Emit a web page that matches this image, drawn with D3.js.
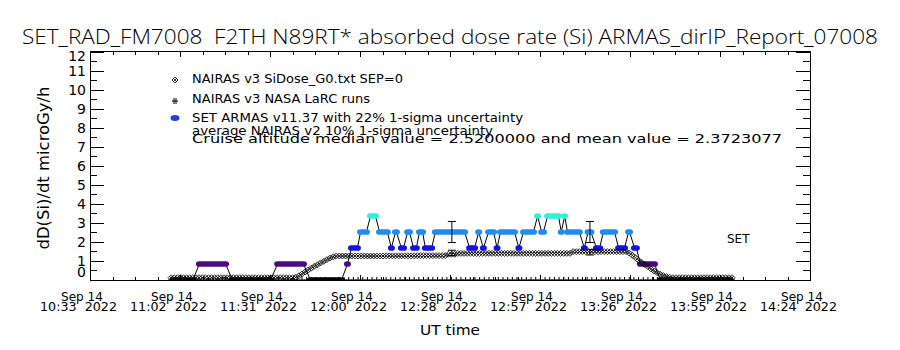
<!DOCTYPE html>
<html><head><meta charset="utf-8">
<script src="https://cdn.jsdelivr.net/npm/d3@7"></script>
<style>
body{margin:0;background:#fff}
svg{display:block}
text{font-family:"DejaVu Sans",sans-serif;fill:#000;white-space:pre}
.title{font-family:"Open Sans","DejaVu Sans",sans-serif;font-weight:300}
</style>
</head><body>
<svg id="chart" width="900" height="350"></svg>
<script>
// ---------- texts ----------
const titleText = "SET_RAD_FM7008  F2TH N89RT* absorbed dose rate (Si) ARMAS_dirIP_Report_07008";
const yAxisLabel = "dD(Si)/dt microGy/h";
const xAxisLabel = "UT time";
const xTickDate = ["Sep 14","Sep 14","Sep 14","Sep 14","Sep 14","Sep 14","Sep 14","Sep 14","Sep 14"];
const xTickTime = ["10:33  2022","11:02  2022","11:31  2022","12:00  2022","12:28  2022","12:57  2022","13:26  2022","13:55  2022","14:24  2022"];
const yTickValues = [0,1,2,3,4,5,6,7,8,9,10,11,12];
const legendLabels = [
  "NAIRAS v3 SiDose_G0.txt SEP=0",
  "NAIRAS v3 NASA LaRC runs",
  "SET ARMAS v11.37 with 22% 1-sigma uncertainty",
  "average NAIRAS v2 10% 1-sigma uncertainty",
  "Cruise altitude median value = 2.5200000 and mean value = 2.3723077"
];
const instrumentLabel = "SET";

// ---------- time axis (minutes after 10:33 UT, 14 Sep 2022) ----------
const timeStart = new Date(2022, 8, 14, 10, 33, 0);
const timeEnd   = new Date(2022, 8, 14, 14, 24, 0);

// ---------- NAIRAS v3 SiDose_G0 (one sample per minute, starting at minute 26) ----------
const sidoseStartMin = 26;
const sidoseValues = [
  // ground
  0.12,0.12,0.12,0.12,0.12,0.12,0.12,0.12,0.12,0.12,
  0.12,0.12,0.12,0.12,0.12,0.12,0.12,0.12,0.12,0.12,
  0.12,0.12,0.12,0.12,0.12,0.12,0.12,0.12,0.12,0.12,
  0.12,0.12,0.12,0.12,0.12,0.12,0.12,0.12,0.12,0.12,
  // climb
  0.14,0.22,0.32,0.42,0.52,0.62,0.72,0.80,0.90,0.98,1.07,1.15,1.22,1.26,
  // cruise
  1.26,1.26,1.26,1.26,1.26,1.26,1.26,1.26,1.26,1.26,
  1.26,1.26,1.26,1.26,1.26,1.27,1.27,1.27,1.27,1.27,
  1.27,1.27,1.27,1.27,1.27,1.28,1.28,1.28,1.28,1.28,
  1.28,1.28,1.28,1.28,1.28,
  1.35,1.35,1.35,
  1.40,1.40,1.40,1.40,1.40,1.40,1.40,1.40,1.40,1.40,
  1.40,1.40,1.40,1.40,1.40,1.40,1.40,1.40,1.40,1.40,
  1.40,1.40,1.40,1.40,1.40,1.40,1.40,1.40,1.40,1.40,
  1.40,1.40,1.40,1.40,1.40,1.40,1.40,
  1.49,1.49,1.49,1.49,1.49,1.49,1.49,1.49,1.49,1.49,
  1.49,1.49,1.49,1.49,1.49,1.49,1.49,1.49,
  // descent
  1.42,1.30,1.17,1.03,0.92,0.81,0.70,0.58,0.47,0.38,0.30,0.23,0.18,0.14,
  // ground
  0.12,0.12,0.12,0.12,0.12,0.12,0.12,0.12,0.12,0.12,
  0.12,0.12,0.12,0.12,0.12,0.12,0.12,0.12,0.12,0.12
];

// ---------- NAIRAS v3 NASA LaRC runs (one sample every 1.5 minutes, starting at minute 26) ----------
const larcStartMin = 26;
const larcStepMin = 1.5;
const larcValues = [
  0,0,0,0,0,0,0,0,0,0,0,0,0,0,0,0,0,0,0,0,
  0,0,0,0,0,0,0,0,0,0,0,0,0,0,0,0,0,0,0,0,
  0,0,0,0,0,0,0,0,0,0,0,0,0,0,0,0,0,0,0,0,
  0,0,0,0,0,0,0,0,0,0,0,0,0,0,0,0,0,0,0,0,
  0,0,0,0,0,0,0,0,0,0,0,0,0,0,0,0,0,0,0,0,
  0,0,0,0,0,0,0,0,0,0,0,0,0,0,0,0,0,0,0,0,
  0
];

// ---------- SET ARMAS: runs of equal reading (minutes after 10:33) ----------
const armasRunStart = [26.8,35.1,45.7,60.2,70.7,82.6,83.9,86.8,90.0,92.9,96.7,98.0,99.9,101.9,103.8,105.7,107.6,110.8,121.8,124.7,126.2,127.9,130.6,131.7,137.6,139.1,143.6,144.9,146.8,151.2,152.3,153.2,158.6,159.8,162.5,164.7,169.6,172.8,174.7,176.6,183.0];
const armasRunEnd   = [33.0,43.5,57.9,68.5,80.7,82.6,85.8,88.7,91.6,95.4,96.7,98.3,100.6,102.5,104.7,106.7,109.6,120.2,123.4,124.7,126.2,129.5,130.6,136.2,137.6,142.3,143.6,145.5,150.3,151.2,152.3,157.0,158.6,160.7,163.5,168.3,171.5,173.1,175.3,181.1,205.2];
const armasRunValue = [0,0.84,0,0.84,0,0.84,1.68,2.52,3.36,2.52,1.68,2.52,1.68,2.52,1.68,2.52,1.68,2.52,1.68,2.52,1.68,2.52,1.68,2.52,1.68,2.52,3.36,2.52,3.36,2.52,3.36,2.52,1.68,2.52,1.68,2.52,1.68,2.52,1.68,0.84,0];
const armasLevels = [0,0.84,1.68,2.52,3.36];
const armasColors = ["#000000","#4b0a84","#1010f0","#1e8cf2","#2ef2d4"];

// ---------- uncertainty bars ----------
const errTimesMin = [116.1, 160.4];
const armasMedian = 2.52, armasSigma = 0.22;
const nairasAvg = [1.42, 1.46], nairasSigma = 0.10;

// ---------- layout ----------
const svg = d3.select("#chart");
const L = 90, R = 810, T = 51.5, B = 280;
const minToDate = m => new Date(timeStart.getTime() + m * 60000);
const x = d3.scaleTime().domain([timeStart, timeEnd]).range([L, R]);
const y = d3.scaleLinear().domain([0, 12]).range([B, T]);
const color = d3.scaleOrdinal().domain(armasLevels).range(armasColors);

svg.append("defs").append("clipPath").attr("id","plotclip")
  .append("rect").attr("x",L).attr("y",T).attr("width",R-L).attr("height",B-T);

// title
svg.append("text").attr("class","title").attr("x",450).attr("y",44).attr("text-anchor","middle")
  .attr("font-size",20).attr("textLength",856).attr("lengthAdjust","spacingAndGlyphs")
  .text(titleText);

// axes
const span = timeEnd - timeStart;
const majorTicks = d3.range(9).map(i => new Date(timeStart.getTime() + i * span / 8));
const minorTicks = d3.range(33).map(i => new Date(timeStart.getTime() + i * span / 32));

svg.append("g").attr("transform",`translate(0,${B})`)
  .call(d3.axisBottom(x).tickValues(minorTicks).tickSize(-3).tickFormat(""))
  .call(g => g.select(".domain").remove());
svg.append("g").attr("transform",`translate(0,${B})`)
  .call(d3.axisBottom(x).tickValues(majorTicks).tickSize(-5).tickFormat(""))
  .call(g => g.select(".domain").remove());
svg.append("g").attr("transform",`translate(0,${T})`)
  .call(d3.axisTop(x).tickValues(minorTicks).tickSize(-3).tickFormat(""))
  .call(g => g.select(".domain").remove());
svg.append("g").attr("transform",`translate(0,${T})`)
  .call(d3.axisTop(x).tickValues(majorTicks).tickSize(-5).tickFormat(""))
  .call(g => g.select(".domain").remove());

const yMinor = d3.range(0.5, 12, 1);
svg.append("g").attr("transform",`translate(${L},0)`)
  .call(d3.axisLeft(y).tickValues(yTickValues).tickSize(-14).tickFormat(""))
  .call(g => g.select(".domain").remove());
svg.append("g").attr("transform",`translate(${L},0)`)
  .call(d3.axisLeft(y).tickValues(yMinor).tickSize(-7).tickFormat(""))
  .call(g => g.select(".domain").remove());
svg.append("g").attr("transform",`translate(${R},0)`)
  .call(d3.axisRight(y).tickValues(yTickValues).tickSize(-14).tickFormat(""))
  .call(g => g.select(".domain").remove());
svg.append("g").attr("transform",`translate(${R},0)`)
  .call(d3.axisRight(y).tickValues(yMinor).tickSize(-7).tickFormat(""))
  .call(g => g.select(".domain").remove());
svg.selectAll(".tick line").attr("stroke","#000").attr("stroke-width",1).attr("shape-rendering","crispEdges");

svg.append("rect").attr("x",L).attr("y",T).attr("width",R-L).attr("height",B-T)
  .attr("fill","none").attr("stroke","#000").attr("stroke-width",1).attr("shape-rendering","crispEdges");

// y tick labels
svg.append("g").selectAll("text").data(yTickValues).join("text")
  .attr("x",86).attr("text-anchor","end").attr("font-size",14)
  .attr("y", d => d === 0 ? B - 3 : d === 12 ? T + 9.5 : y(d) + 5.2)
  .text(d => d);

// x tick labels
const xl = svg.append("g");
xl.selectAll("text.d").data(majorTicks).join("text").attr("class","d")
  .attr("x", d => x(d) - 8).attr("y",300.5).attr("text-anchor","middle").attr("font-size",12)
  .attr("textLength",42).attr("lengthAdjust","spacingAndGlyphs")
  .text((d,i) => xTickDate[i]);
xl.selectAll("text.t").data(majorTicks).join("text").attr("class","t")
  .attr("x", d => x(d) - 11.5).attr("y",311).attr("text-anchor","middle").attr("font-size",12)
  .attr("textLength",77).attr("lengthAdjust","spacingAndGlyphs")
  .text((d,i) => xTickTime[i]);

svg.append("text").attr("x",450).attr("y",335).attr("text-anchor","middle")
  .attr("font-size",14).attr("textLength",60).attr("lengthAdjust","spacingAndGlyphs").text(xAxisLabel);

svg.append("text").attr("transform",`translate(48.5,168) rotate(-90)`).attr("text-anchor","middle")
  .attr("font-size",15).attr("textLength",163).attr("lengthAdjust","spacingAndGlyphs").text(yAxisLabel);

// ---------- data ----------
const plot = svg.append("g").attr("clip-path","url(#plotclip)");

// ARMAS connecting line
const armasPts = [];
armasRunStart.forEach((s,i) => {
  armasPts.push([s, armasRunValue[i]]);
  armasPts.push([armasRunEnd[i], armasRunValue[i]]);
});
plot.append("path").datum(armasPts)
  .attr("d", d3.line().x(d => x(minToDate(d[0]))).y(d => y(d[1])))
  .attr("fill","none").attr("stroke","#000").attr("stroke-width",1);

// ARMAS markers (runs of points)
plot.append("g").selectAll("rect").data(armasRunStart).join("rect")
  .attr("x", (s) => x(minToDate(s)) - 3.5)
  .attr("width", (s,i) => x(minToDate(armasRunEnd[i])) - x(minToDate(s)) + 7)
  .attr("y", (s,i) => y(armasRunValue[i]) - 2.8)
  .attr("height", 5.6).attr("rx",3.2).attr("ry",2.8)
  .attr("fill", (s,i) => color(armasRunValue[i]));

// LaRC "+" markers
plot.append("g").selectAll("path").data(larcValues).join("path")
  .attr("transform",(v,i) => `translate(${x(minToDate(larcStartMin + i*larcStepMin))},${y(v)})`)
  .attr("d","M-3,0H3M0,-3V3").attr("stroke","#000").attr("stroke-width",1).attr("fill","none");

// SiDose markers
const sidoseSym = "M0,-3L3,0L0,3L-3,0Z M-1.5,-1.5L1.5,1.5 M1.5,-1.5L-1.5,1.5";
plot.append("g").selectAll("path").data(sidoseValues).join("path")
  .attr("transform",(v,i) => `translate(${x(minToDate(sidoseStartMin + i))},${y(v)})`)
  .attr("d", sidoseSym).attr("stroke","#000").attr("stroke-width",0.8).attr("fill","none");

// uncertainty bars
const eb = svg.append("g").attr("stroke","#000").attr("stroke-width",1).attr("fill","none");
errTimesMin.forEach((m,i) => {
  const cx = x(minToDate(m));
  const lo = armasMedian*(1-armasSigma), hi = armasMedian*(1+armasSigma);
  eb.append("path").attr("d",`M${cx},${y(lo)}V${y(hi)}M${cx-4},${y(lo)}H${cx+4}M${cx-4},${y(hi)}H${cx+4}`);
  const lo2 = nairasAvg[i]*(1-nairasSigma), hi2 = nairasAvg[i]*(1+nairasSigma);
  eb.append("path").attr("d",`M${cx},${y(lo2)}V${y(hi2)}M${cx-4},${y(lo2)}H${cx+4}M${cx-4},${y(hi2)}H${cx+4}`);
});

// instrument label
svg.append("text").attr("x",727).attr("y",243).attr("font-size",12).text(instrumentLabel);

// ---------- legend ----------
const legendBase = [83, 103, 122, 135, 143];
const legendWidths = [211, 178, 331, 301, 590];
const legendSizes = [12, 12, 12, 12, 12.5];
svg.append("g").selectAll("text").data(legendLabels).join("text")
  .attr("x",192).attr("y",(d,i) => legendBase[i]).attr("font-size",(d,i) => legendSizes[i])
  .attr("textLength",(d,i) => legendWidths[i]).attr("lengthAdjust","spacingAndGlyphs")
  .text(d => d);
svg.append("path").attr("transform","translate(175,80)").attr("d",sidoseSym)
  .attr("stroke","#000").attr("stroke-width",0.8).attr("fill","none");
svg.append("path").attr("transform","translate(175,101)").attr("d","M-3,0H3M-1,-3V3M1,-3V3")
  .attr("stroke","#000").attr("stroke-width",1).attr("fill","none");
svg.append("ellipse").attr("cx",175).attr("cy",118).attr("rx",4.5).attr("ry",3).attr("fill","#1f3ff0");
</script>
</body></html>
